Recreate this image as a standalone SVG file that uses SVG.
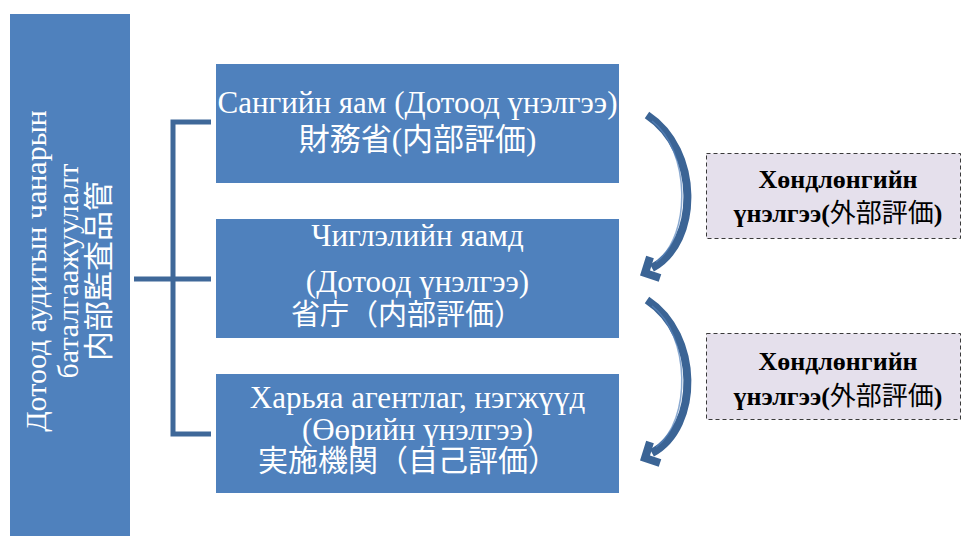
<svg xmlns="http://www.w3.org/2000/svg" width="963" height="536" viewBox="0 0 963 536">
<style>
.box{fill:#4f81bd;}
.wt{fill:#ffffff;font-family:"Liberation Serif","Noto Sans CJK JP",serif;font-size:31px;text-anchor:middle;}
.lt{fill:#ffffff;font-family:"Liberation Serif","Noto Sans CJK JP",serif;font-size:30px;text-anchor:middle;}
.dbox{fill:#e5e0ec;stroke:#3a3a3a;stroke-width:1;stroke-dasharray:4 3;}
.dt{fill:#000000;font-family:"Liberation Serif","Noto Sans CJK JP",serif;font-size:26px;font-weight:bold;text-anchor:middle;}
.cj{font-weight:normal;}
.br{fill:none;stroke:#3f6899;stroke-width:5;}
.arr{fill:none;stroke:#3b6495;stroke-width:8;}
.hl{fill:none;stroke:#5a86bd;stroke-width:1.5;opacity:0.7;}
</style>
<rect x="0" y="0" width="963" height="536" fill="#ffffff"/>

<g id="left-bar">
<rect class="box" x="10" y="14" width="120" height="522"/>
<g transform="translate(0,271) rotate(-90)">
<text class="lt" x="0" y="46">Дотоод аудитын чанарын</text>
<text class="lt" x="0" y="78">баталгаажуулалт</text>
<text class="lt" x="0" y="109">内部監査品管</text>
</g>
</g>

<g id="connectors">
<path class="br" d="M211,122 H173 V434 H211"/>
<path class="br" d="M134,279 H211"/>
<g id="arrow1">
<path class="arr" d="M647,115 C700,150 700,242 652,268"/>
<path class="arr" d="M650,257 L645,273 L660,278" stroke-linejoin="miter"/>
<path class="hl" d="M652,121 C690,150 692,235 656,262"/>
</g>
<g id="arrow2" transform="translate(0,185)">
<path class="arr" d="M647,115 C700,150 700,242 652,268"/>
<path class="arr" d="M650,257 L645,273 L660,278" stroke-linejoin="miter"/>
<path class="hl" d="M652,121 C690,150 692,235 656,262"/>
</g>
</g>

<g id="node-ministry-finance">
<rect class="box" x="216" y="64" width="403" height="119"/>
<text class="wt" x="417.5" y="113">Сангийн яам (Дотоод үнэлгээ)</text>
<text class="wt" x="417.5" y="150">財務省(内部評価)</text>
</g>

<g id="node-line-ministries">
<rect class="box" x="216" y="219" width="403" height="119"/>
<text class="wt" x="417.5" y="246">Чиглэлийн яамд</text>
<text class="wt" x="417.5" y="292">(Дотоод үнэлгээ)</text>
<text class="wt" x="407" y="325" style="font-size:29px">省庁（内部評価）</text>
</g>

<g id="node-agencies">
<rect class="box" x="216" y="374" width="403" height="119"/>
<text class="wt" x="417.5" y="408">Харьяа агентлаг, нэгжүүд</text>
<text class="wt" x="417.5" y="440">(Өөрийн үнэлгээ)</text>
<text class="wt" x="408" y="471" style="font-size:30px">実施機関（自己評価）</text>
</g>

<g id="node-external-1">
<rect class="dbox" x="706.5" y="153.5" width="254" height="85"/>
<text class="dt" x="838" y="188">Хөндлөнгийн</text>
<text class="dt" x="838" y="222">үнэлгээ(<tspan class="cj">外部評価</tspan>)</text>
</g>

<g id="node-external-2">
<rect class="dbox" x="706.5" y="333.5" width="254" height="86"/>
<text class="dt" x="838" y="370">Хөндлөнгийн</text>
<text class="dt" x="838" y="405">үнэлгээ(<tspan class="cj">外部評価</tspan>)</text>
</g>
</svg>
